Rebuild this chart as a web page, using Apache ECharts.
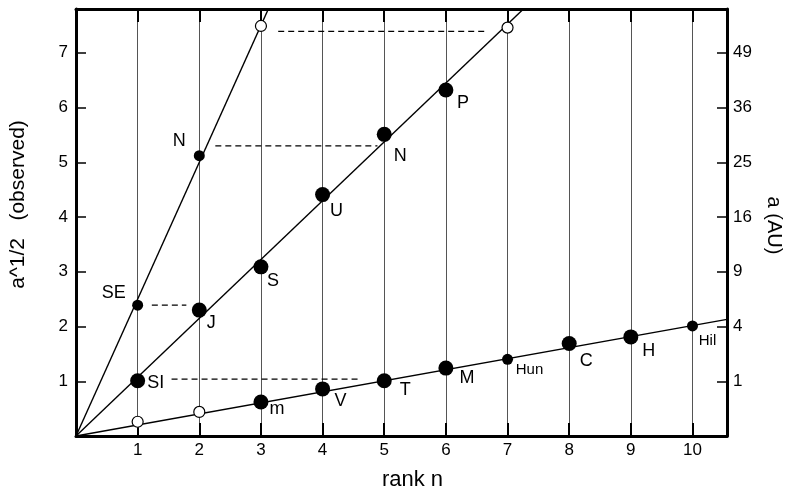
<!DOCTYPE html>
<html>
<head>
<meta charset="utf-8">
<script src="https://cdn.jsdelivr.net/npm/echarts@6/dist/echarts.min.js"></script>
<style>html,body{margin:0;padding:0;background:#fff}#c{width:792px;height:496px}</style>
</head>
<body>
<div id="c"></div>
<script>
// ---- data ----
const xTicks = [1, 2, 3, 4, 5, 6, 7, 8, 9, 10];
const yTicks = [1, 2, 3, 4, 5, 6, 7];

const bigNames = ['SI', 'J', 'S', 'U', 'N', 'P', 'm', 'V', 'T', 'M', 'C', 'H'];
const bigPoints = [[1, 1.01], [2, 2.30], [3, 3.09], [4, 4.41], [5, 5.51], [6, 6.32],
                   [3, 0.62], [4, 0.86], [5, 1.01], [6, 1.24], [8, 1.69], [9, 1.81]];

const smallNames = ['SE', 'N', 'Hun', 'Hil'];
const smallPoints = [[1, 2.39], [2, 5.12], [7, 1.40], [10, 2.01]];

const openPoints = [[1, 0.26], [2, 0.44], [3, 7.49], [7, 7.46]];

const steepLine = [[0, 0], [3.2, 8.0]];
const midLine = [[0, 0], [7.5, 8.06]];
const lowLine = [[0, 0], [10.56, 2.13]];

const dashLines = [
  [[3.28, 7.39], [6.65, 7.39]],
  [[2.26, 5.30], [4.89, 5.30]],
  [[1.23, 2.39], [1.79, 2.39]],
  [[1.55, 1.04], [4.62, 1.04]]
];

// ---- label placement (style) ----
const bigOffsets = [[18, 2], [12, 13], [12, 14], [14, 16], [16, 22], [17, 13],
                    [16, 7], [18, 12], [21, 9], [21, 10], [17, 18], [18, 14]];
const smallOffsets = [[-24, -12], [-20, -15], [22, 11], [15, 15]];
const smallFont = [18, 18, 15, 15];

const FONT = 'Liberation Sans, Arial, Helvetica, sans-serif';

const chart = echarts.init(document.getElementById('c'), null, {renderer: 'canvas'});

const series = [];
[steepLine, midLine, lowLine].forEach(d => {
  series.push({type: 'line', data: d, symbol: 'none', clip: true, silent: true,
    lineStyle: {color: '#000', width: 1.4}, z: 3});
});
dashLines.forEach(d => {
  series.push({type: 'line', data: d, symbol: 'none', silent: true,
    lineStyle: {color: '#000', width: 1.3, type: [6, 4]}, z: 3});
});
series.push({
  type: 'scatter', symbolSize: 15, z: 5,
  itemStyle: {color: '#000', opacity: 1},
  data: bigPoints.map((p, i) => ({value: p, name: bigNames[i],
    label: {show: true, formatter: bigNames[i], position: 'inside', offset: bigOffsets[i],
      color: '#000', fontSize: 18, fontFamily: FONT}}))
});
series.push({
  type: 'scatter', symbolSize: 11, z: 5,
  itemStyle: {color: '#000', opacity: 1},
  data: smallPoints.map((p, i) => ({value: p, name: smallNames[i],
    label: {show: true, formatter: smallNames[i], position: 'inside', offset: smallOffsets[i],
      color: '#000', fontSize: smallFont[i], fontFamily: FONT}}))
});
series.push({
  type: 'scatter', symbolSize: 11, z: 5,
  itemStyle: {color: '#fff', borderColor: '#000', borderWidth: 1.2, opacity: 1},
  data: openPoints
});

const intLabel = v => (v > 0 && Math.abs(v - Math.round(v)) < 1e-9) ? String(Math.round(v)) : '';

chart.setOption({
  backgroundColor: '#fff',
  animation: false,
  grid: {left: 75, right: 58, top: 9, bottom: 55, containLabel: false},
  xAxis: [{
    type: 'value', min: 0, max: 10.56, interval: 1, position: 'bottom',
    name: 'rank n', nameLocation: 'middle', nameGap: 33,
    nameTextStyle: {fontSize: 22, color: '#000', fontFamily: FONT, padding: [0, 0, 0, 22]},
    axisLine: {show: true, onZero: false, lineStyle: {color: '#000', width: 3}},
    axisTick: {show: true, inside: true, length: 13, lineStyle: {color: '#000', width: 2}},
    axisLabel: {formatter: intLabel, fontSize: 17, color: '#000', fontFamily: FONT, margin: 6},
    splitLine: {show: true, lineStyle: {color: '#555', width: 1}}
  }, {
    type: 'value', min: 0, max: 10.56, interval: 1, position: 'top',
    axisLine: {show: true, onZero: false, lineStyle: {color: '#000', width: 3}},
    axisTick: {show: true, inside: true, length: 13, lineStyle: {color: '#000', width: 2}},
    axisLabel: {show: false},
    splitLine: {show: false}
  }],
  yAxis: [{
    type: 'value', min: 0, max: 7.8, interval: 1, position: 'left',
    name: 'a^1/2   (observed)', nameLocation: 'middle', nameGap: 47, nameRotate: 90,
    nameTextStyle: {fontSize: 21, color: '#000', fontFamily: FONT, padding: [0, 0, 0, 36]},
    axisLine: {show: true, onZero: false, lineStyle: {color: '#000', width: 3}},
    axisTick: {show: true, inside: true, length: 10, lineStyle: {color: '#000', width: 1.5}},
    axisLabel: {formatter: intLabel, fontSize: 17, color: '#000', fontFamily: FONT, margin: 8},
    splitLine: {show: false}
  }, {
    type: 'value', min: 0, max: 7.8, interval: 1, position: 'right',
    name: 'a (AU)', nameLocation: 'middle', nameGap: 37, nameRotate: -90,
    nameTextStyle: {fontSize: 20, color: '#000', fontFamily: FONT, padding: [0, 0, 0, 6]},
    axisLine: {show: true, onZero: false, lineStyle: {color: '#000', width: 3}},
    axisTick: {show: true, inside: true, length: 10, lineStyle: {color: '#000', width: 1.5}},
    axisLabel: {formatter: v => { const s = intLabel(v); return s ? String(v * v) : ''; },
      fontSize: 17, color: '#000', fontFamily: FONT, margin: 6},
    splitLine: {show: false}
  }],
  series: series
});
</script>
</body>
</html>
